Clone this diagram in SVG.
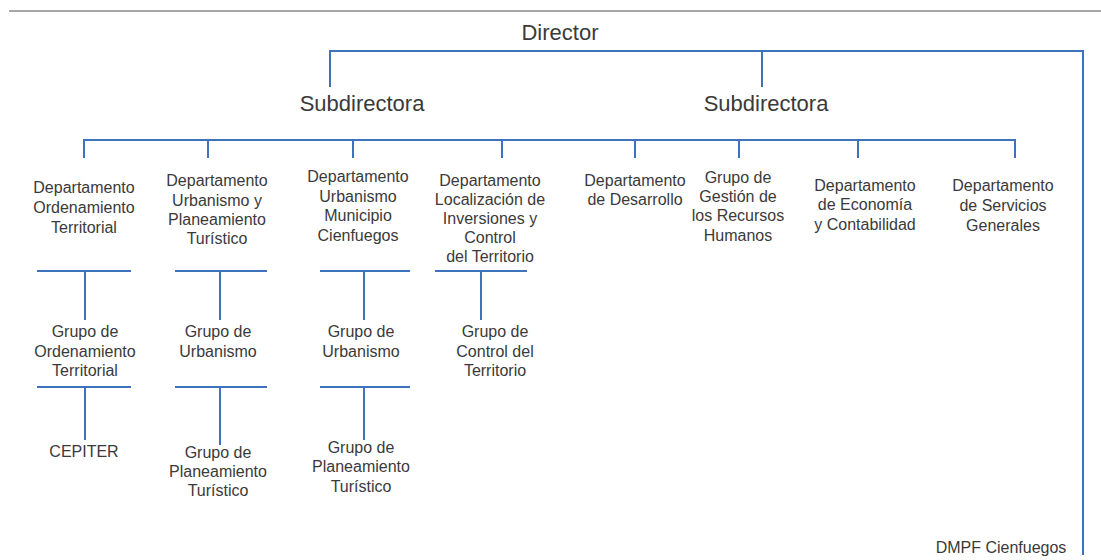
<svg xmlns="http://www.w3.org/2000/svg" width="1101" height="560" viewBox="0 0 1101 560">
<style>
text{font-family:"Liberation Sans",Arial,sans-serif;fill:#3a3a3a;text-anchor:middle}
.big{font-size:22px}
.t{font-size:16px}
.c{stroke:#3f72bd;stroke-width:2;fill:none}
.frame{stroke:#8a8a8a;stroke-width:1.5}
</style>
<rect width="1101" height="560" fill="#fff"/>
<line class="frame" x1="9" y1="11" x2="1101" y2="11"/>
<g id="connectors">
<path class="c" d="M330 87V51H1083V555"/>
<path class="c" d="M762 51V87"/>
<path class="c" d="M84 158V140H1015V158M208 140V158M353 140V158M502 140V158M635 140V158M739 140V158M858 140V158"/>
<path class="c" d="M37 271H131M85 271V320M175 271H267M220 271V320M320 271H410M364 271V320M435 271H527M481 271V320"/>
<path class="c" d="M37 387H131M85 387V440M175 387H267M220 387V445M320 387H410M364 387V440"/>
</g>
<g id="director"><text class="big" x="560" y="40">Director</text></g>
<g id="subdirectora1"><text class="big" x="362" y="111">Subdirectora</text></g>
<g id="subdirectora2"><text class="big" x="766" y="111">Subdirectora</text></g>
<g id="dep-ordenamiento" class="t"><text x="84" y="193">Departamento</text><text x="84" y="213">Ordenamiento</text><text x="84" y="233">Territorial</text></g>
<g id="dep-urbanismo-planeamiento" class="t"><text x="217" y="186">Departamento</text><text x="217" y="206">Urbanismo y</text><text x="217" y="225">Planeamiento</text><text x="217" y="244">Turístico</text></g>
<g id="dep-urbanismo-municipio" class="t"><text x="358" y="182">Departamento</text><text x="358" y="202">Urbanismo</text><text x="358" y="221">Municipio</text><text x="358" y="241">Cienfuegos</text></g>
<g id="dep-localizacion" class="t"><text x="490" y="186">Departamento</text><text x="490" y="205">Localización de</text><text x="490" y="224">Inversiones y</text><text x="490" y="243">Control</text><text x="490" y="262">del Territorio</text></g>
<g id="dep-desarrollo" class="t"><text x="635" y="186">Departamento</text><text x="635" y="205">de Desarrollo</text></g>
<g id="grupo-rrhh" class="t"><text x="738" y="183">Grupo de</text><text x="738" y="202">Gestión de</text><text x="738" y="221">los Recursos</text><text x="738" y="241">Humanos</text></g>
<g id="dep-economia" class="t"><text x="865" y="191">Departamento</text><text x="865" y="210">de Economía</text><text x="865" y="230">y Contabilidad</text></g>
<g id="dep-servicios" class="t"><text x="1003" y="191">Departamento</text><text x="1003" y="211">de Servicios</text><text x="1003" y="231">Generales</text></g>
<g id="grupo-ordenamiento" class="t"><text x="85" y="337">Grupo de</text><text x="85" y="357">Ordenamiento</text><text x="85" y="376">Territorial</text></g>
<g id="grupo-urbanismo1" class="t"><text x="218" y="337">Grupo de</text><text x="218" y="357">Urbanismo</text></g>
<g id="grupo-urbanismo2" class="t"><text x="361" y="337">Grupo de</text><text x="361" y="357">Urbanismo</text></g>
<g id="grupo-control" class="t"><text x="495" y="337">Grupo de</text><text x="495" y="357">Control del</text><text x="495" y="376">Territorio</text></g>
<g id="cepiter" class="t"><text x="84" y="457">CEPITER</text></g>
<g id="grupo-planeamiento1" class="t"><text x="218" y="458">Grupo de</text><text x="218" y="477">Planeamiento</text><text x="218" y="496">Turístico</text></g>
<g id="grupo-planeamiento2" class="t"><text x="361" y="453">Grupo de</text><text x="361" y="472">Planeamiento</text><text x="361" y="492">Turístico</text></g>
<g id="dmpf" class="t"><text x="1001" y="553">DMPF Cienfuegos</text></g>
</svg>
